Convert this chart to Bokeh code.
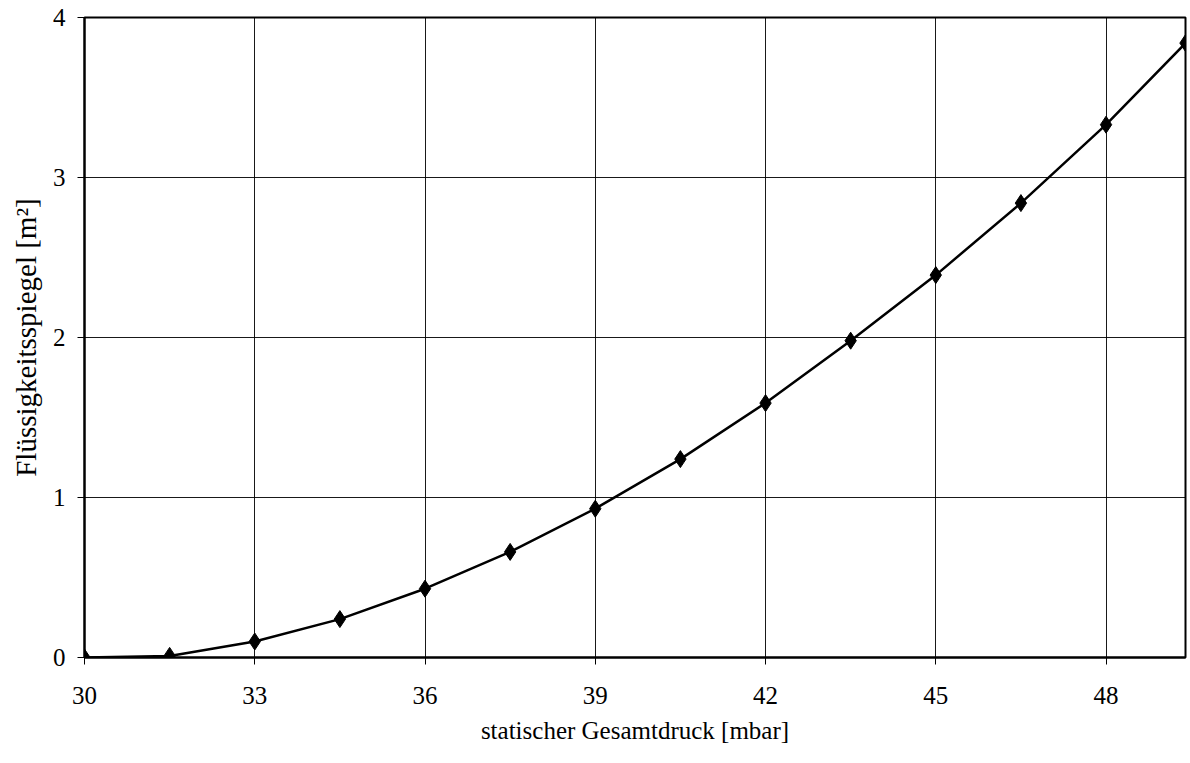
from bokeh.plotting import figure
from bokeh.models import Range1d, FixedTicker
from bokeh.embed import file_html
from bokeh.resources import INLINE

# data
pressure_mbar = [30, 31.5, 33, 34.5, 36, 37.5, 39, 40.5, 42, 43.5, 45, 46.5, 48, 49.4]
liquid_level_m2 = [0.0, 0.01, 0.10, 0.24, 0.43, 0.66, 0.93, 1.24, 1.59, 1.98, 2.39, 2.84, 3.33, 3.84]
x_ticks = [30, 33, 36, 39, 42, 45, 48]
y_ticks = [0, 1, 2, 3, 4]

FONT = "Liberation Serif"

p = figure(width=1190, height=763, output_backend="svg", toolbar_location=None,
           x_range=Range1d(30, 49.4), y_range=Range1d(0, 4),
           min_border_left=84, min_border_right=5, min_border_top=17, min_border_bottom=106)
p.background_fill_color = "white"
p.border_fill_color = "white"
p.outline_line_color = "black"
p.outline_line_width = 2

for ax in (p.xaxis, p.yaxis):
    ax.axis_line_color = "black"
    ax.axis_line_width = 2
    ax.major_tick_line_color = "black"
    ax.major_tick_in = 0
    ax.major_tick_out = 7
    ax.minor_tick_line_color = None
    ax.major_label_text_font = FONT
    ax.major_label_text_font_size = "25px"
    ax.major_label_text_color = "black"
    ax.axis_label_text_font = FONT
    ax.axis_label_text_font_style = "normal"
    ax.axis_label_text_color = "black"

p.xaxis.axis_label_text_font_size = "25px"
p.yaxis.axis_label_text_font_size = "29px"
p.xaxis.ticker = FixedTicker(ticks=x_ticks)
p.yaxis.ticker = FixedTicker(ticks=y_ticks)
p.xaxis.major_label_standoff = 22
p.yaxis.major_label_standoff = 12
p.xaxis.axis_label = "statischer Gesamtdruck [mbar]"
p.yaxis.axis_label = "Flüssigkeitsspiegel [m²]"
p.xaxis.axis_label_standoff = 10
p.yaxis.axis_label_standoff = 8

p.xgrid.ticker = FixedTicker(ticks=x_ticks)
p.ygrid.ticker = FixedTicker(ticks=y_ticks)
p.grid.grid_line_color = "black"
p.grid.grid_line_width = 1
p.grid.grid_line_alpha = 0.9

p.line(pressure_mbar, liquid_level_m2, line_color="black", line_width=2.5)
p.scatter(pressure_mbar, liquid_level_m2, marker="diamond", size=17,
          fill_color="black", line_color="black")

open("out.html", "w").write(file_html(p, INLINE))
